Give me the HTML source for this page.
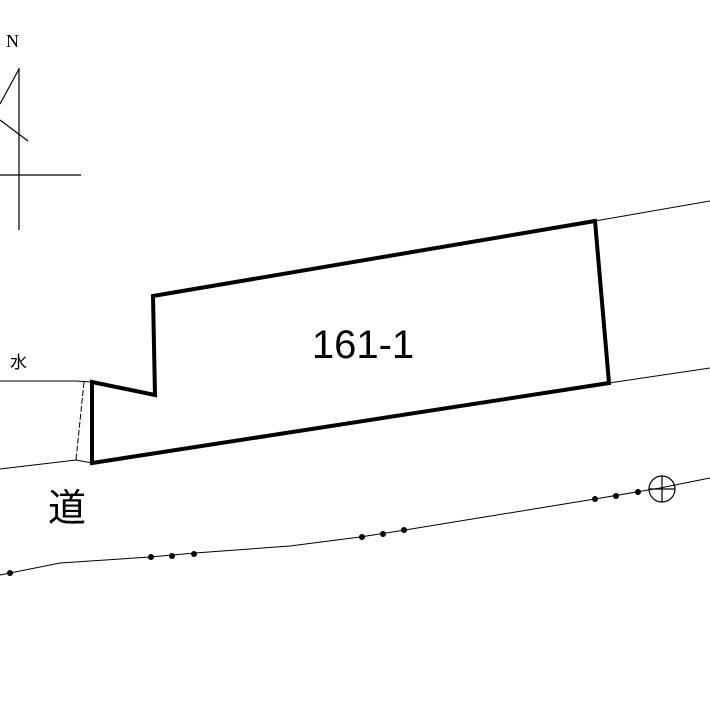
<!DOCTYPE html>
<html><head><meta charset="utf-8"><style>
html,body{margin:0;padding:0;background:#fff;width:710px;height:710px;overflow:hidden}
</style></head><body>
<svg width="710" height="710" viewBox="0 0 710 710" xmlns="http://www.w3.org/2000/svg">
<rect width="710" height="710" fill="#fff"/>
<text x="6" y="47" font-family="Liberation Serif, serif" font-size="18" fill="#000">N</text>
<g stroke="#000" stroke-width="1.2" fill="none">
<line x1="19" y1="68" x2="19" y2="230"/>
<line x1="0" y1="175" x2="81" y2="175"/>
<line x1="19" y1="69" x2="0" y2="104"/>
<line x1="0" y1="120" x2="28" y2="141"/>
</g>
<g stroke="#000" stroke-width="1" fill="none">
<polyline points="595,221 710,201"/>
<polyline points="609,383 710,368"/>
<polyline points="0,381 75,381 92,382"/>
<polyline points="0,469 76,460 92,463"/>
<polyline points="84,382 76,460" stroke-dasharray="6,2"/>
<polyline points="0,575 60,563 150,557 195,553 290,546 360,537 405,530 595,499 660,488 710,478"/>
</g>
<polygon points="153,296 595,221 609,383 92,463 92,382 155,395" fill="none" stroke="#000" stroke-width="4" stroke-linejoin="miter"/>
<g fill="#000">
<circle cx="10" cy="573" r="3"/>
<circle cx="151" cy="557" r="3"/><circle cx="172" cy="556" r="3"/><circle cx="194" cy="554" r="3"/>
<circle cx="362" cy="537" r="3"/><circle cx="383" cy="534" r="3"/><circle cx="404" cy="530" r="3"/>
<circle cx="595" cy="499" r="3"/><circle cx="616" cy="496" r="3"/><circle cx="638" cy="492" r="3"/>
</g>
<g stroke="#000" stroke-width="1.2" fill="none">
<circle cx="662" cy="489" r="13"/>
<line x1="662" y1="476" x2="662" y2="502"/>
<line x1="649" y1="489" x2="675" y2="489"/>
</g>
<text x="363" y="358" text-anchor="middle" font-family="Liberation Sans, sans-serif" font-size="40" fill="#000">161-1</text>
<text x="10" y="368" font-family="Liberation Sans, 'Noto Sans CJK JP', sans-serif" font-size="17" fill="#000">水</text>
<text x="48" y="521" font-family="Liberation Sans, 'Noto Sans CJK JP', sans-serif" font-size="38" fill="#000">道</text>
</svg>
</body></html>
